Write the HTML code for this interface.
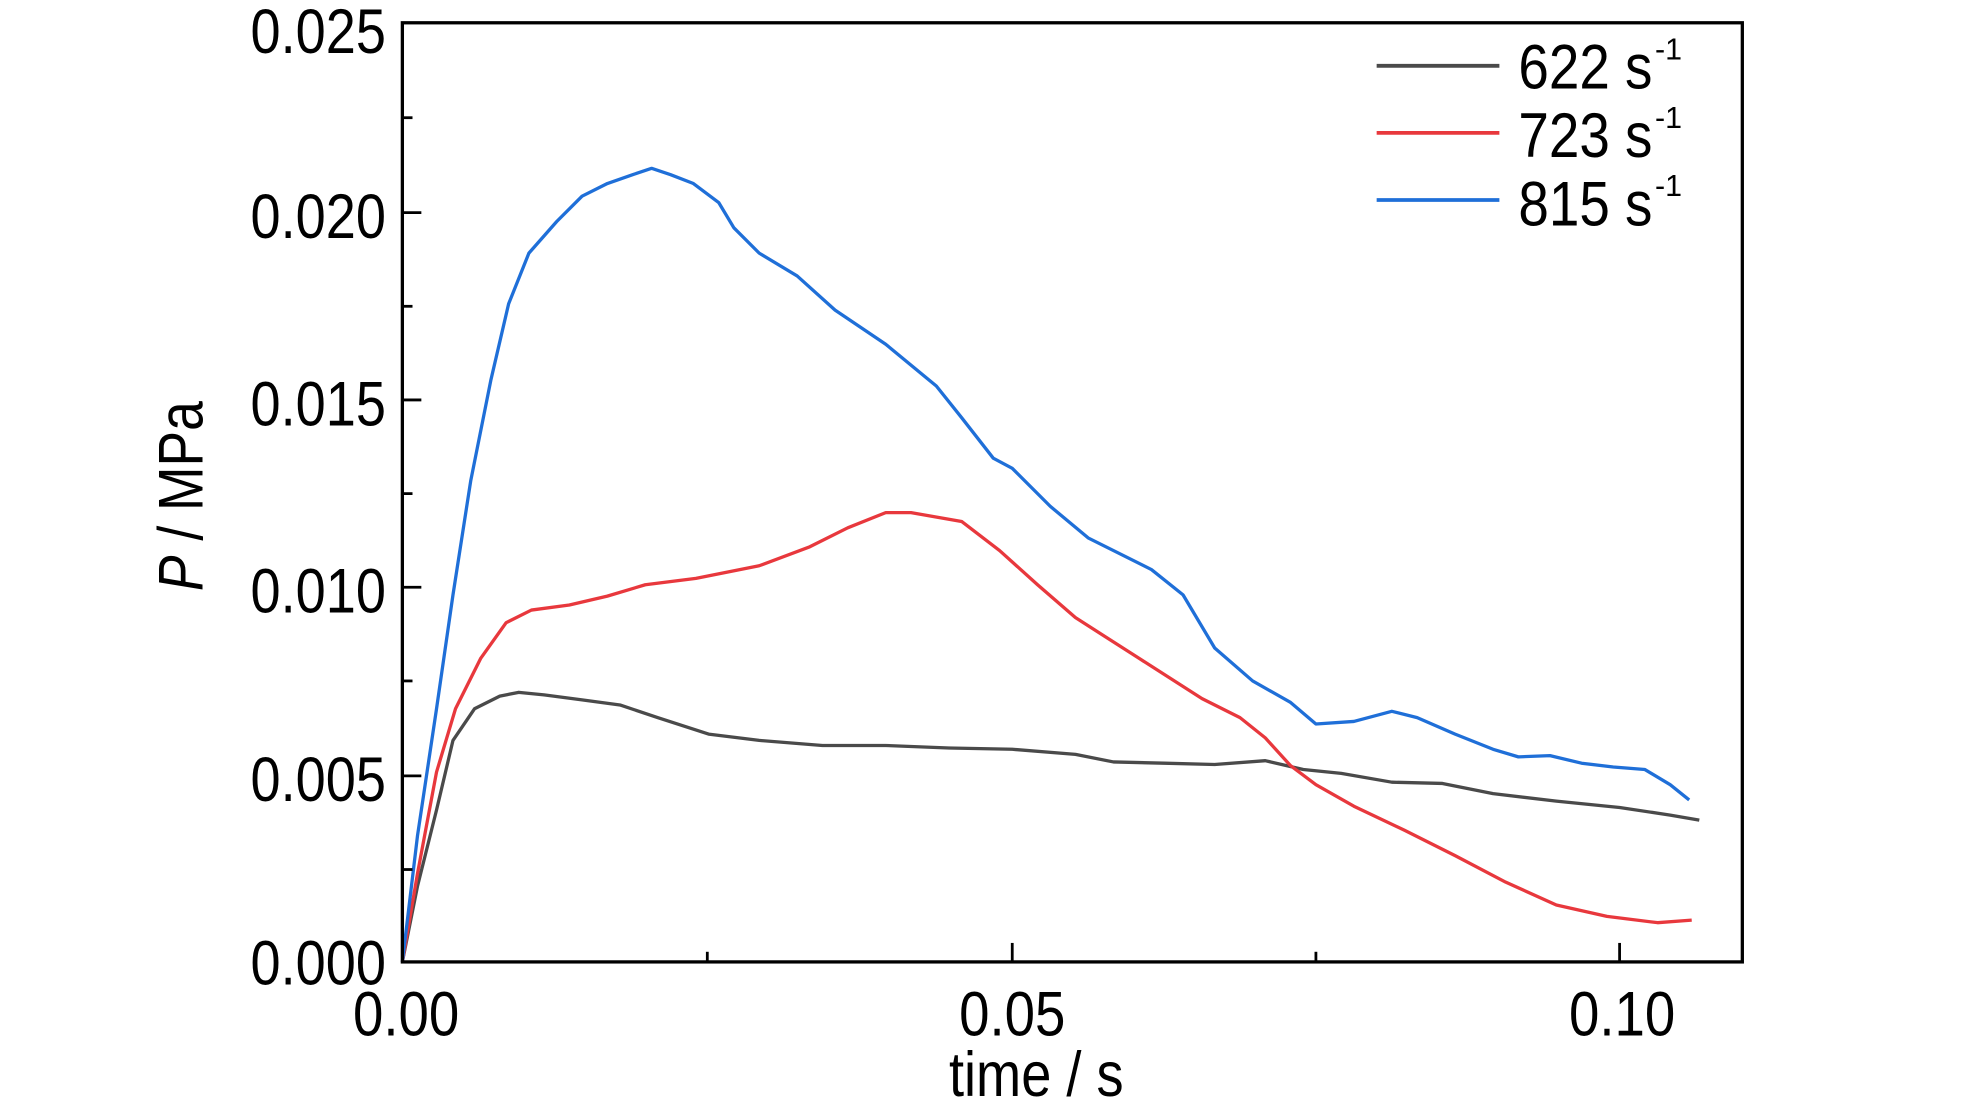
<!DOCTYPE html>
<html><head><meta charset="utf-8"><style>html,body{margin:0;padding:0;background:#fff}svg{display:block}</style></head>
<body>
<svg width="1984" height="1110" viewBox="0 0 1568 877" preserveAspectRatio="none" xmlns="http://www.w3.org/2000/svg" font-family="Liberation Sans, sans-serif">
<rect width="1568" height="877" fill="#fff"/>
<g fill="none" stroke-linejoin="round" stroke-width="2.6">
<polyline stroke="#4a4a4a" points="318,760 330,700 345,640 358,585 375,560 395,550 410,547 430,549 460,553 490,557 520,567 560,580 600,585 650,589 700,589 750,591 800,592 850,596 880,602 920,603 960,604 1000,601 1030,608 1060,611 1100,618 1140,619 1180,627 1230,633 1280,638 1320,644 1343,648"/>
<polyline stroke="#e8383d" points="318,760 330,690 345,610 360,560 380,520 400,492 420,482 450,478 480,471 510,462 550,457 600,447 640,432 670,417 700,405 720,405 760,412 790,435 820,462 850,488 900,520 950,552 980,567 1000,583 1020,605 1040,620 1070,637 1110,656 1150,676 1190,697 1230,715 1270,724 1310,729 1337,727"/>
<polyline stroke="#1f6fd8" points="318,760 330,660 345,560 358,470 372,380 388,300 402,240 418,200 440,175 460,155 480,145 500,138 515,133 530,138 548,145 568,160 580,180 600,200 630,218 660,245 700,272 740,305 760,330 785,362 800,370 830,400 860,425 880,435 910,450 935,470 960,512 990,538 1020,555 1040,572 1070,570 1100,562 1120,567 1150,580 1180,592 1200,598 1225,597 1250,603 1275,606 1300,608 1320,620 1335,632"/>
</g>
<rect x="318" y="18" width="1059" height="742" fill="none" stroke="#000" stroke-width="2.6"/>
<g stroke="#000" stroke-width="2.2">
<line x1="318" y1="168" x2="333" y2="168"/><line x1="318" y1="316" x2="333" y2="316"/><line x1="318" y1="464" x2="333" y2="464"/><line x1="318" y1="613" x2="333" y2="613"/>
<line x1="318" y1="93" x2="326" y2="93"/><line x1="318" y1="242" x2="326" y2="242"/><line x1="318" y1="390" x2="326" y2="390"/><line x1="318" y1="538" x2="326" y2="538"/><line x1="318" y1="687" x2="326" y2="687"/>
<line x1="800" y1="760" x2="800" y2="745"/><line x1="1280" y1="760" x2="1280" y2="745"/>
<line x1="559" y1="760" x2="559" y2="752"/><line x1="1040" y1="760" x2="1040" y2="752"/>
</g>
<g font-size="50" text-anchor="end" fill="#000">
<text x="305" y="42" textLength="107" lengthAdjust="spacingAndGlyphs">0.025</text>
<text x="305" y="188" textLength="107" lengthAdjust="spacingAndGlyphs">0.020</text>
<text x="305" y="336" textLength="107" lengthAdjust="spacingAndGlyphs">0.015</text>
<text x="305" y="484" textLength="107" lengthAdjust="spacingAndGlyphs">0.010</text>
<text x="305" y="633" textLength="107" lengthAdjust="spacingAndGlyphs">0.005</text>
<text x="305" y="778" textLength="107" lengthAdjust="spacingAndGlyphs">0.000</text>
</g>
<g font-size="50" text-anchor="middle" fill="#000">
<text x="321" y="818" textLength="84" lengthAdjust="spacingAndGlyphs">0.00</text>
<text x="800" y="818" textLength="84" lengthAdjust="spacingAndGlyphs">0.05</text>
<text x="1282" y="818" textLength="84" lengthAdjust="spacingAndGlyphs">0.10</text>
<text x="819" y="866" textLength="138" lengthAdjust="spacingAndGlyphs">time / s</text>
<text transform="translate(160,392) rotate(-90)" textLength="150" lengthAdjust="spacingAndGlyphs"><tspan font-style="italic">P</tspan> / MPa</text>
</g>
<g stroke-width="3">
<line x1="1088" y1="52" x2="1185" y2="52" stroke="#4a4a4a"/>
<line x1="1088" y1="105" x2="1185" y2="105" stroke="#e8383d"/>
<line x1="1088" y1="158" x2="1185" y2="158" stroke="#1f6fd8"/>
</g>
<g font-size="50" fill="#000">
<text x="1200" y="70" textLength="106" lengthAdjust="spacingAndGlyphs">622 s</text><text x="1308" y="47" font-size="24">-1</text>
<text x="1200" y="124" textLength="106" lengthAdjust="spacingAndGlyphs">723 s</text><text x="1308" y="101" font-size="24">-1</text>
<text x="1200" y="178" textLength="106" lengthAdjust="spacingAndGlyphs">815 s</text><text x="1308" y="155" font-size="24">-1</text>
</g>
</svg>
</body></html>
